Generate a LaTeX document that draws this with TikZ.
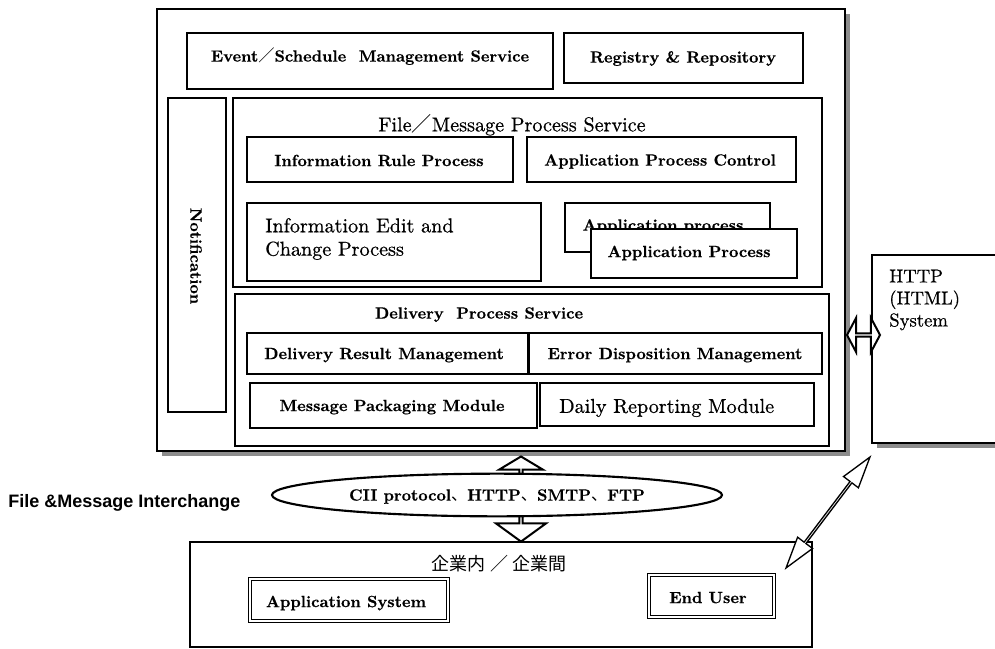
\documentclass[tikz,border=0pt]{standalone}
\usepackage{fontspec}
\newfontfamily\cjk{Noto Sans CJK JP}
\newfontfamily\gothic{Liberation Sans}
\newfontfamily\regfont{lmroman10-regular.otf}[FakeBold=0.6]
\newfontfamily\bfont{lmroman10-bold.otf}[FakeBold=0.5]
\usetikzlibrary{fit,shapes.geometric,shapes.arrows,shadows,calc}
\definecolor{shadowgray}{gray}{0.55}
\newcommand\myBold{\bfont\fontsize{12.2pt}{14.5pt}\selectfont}
\newcommand\myReg{\regfont\fontsize{15.1pt}{17.5pt}\selectfont}
\newcommand\myHttp{\regfont\fontsize{14pt}{16.5pt}\selectfont}
\begin{document}
\begin{tikzpicture}[x=0.75pt,y=-0.75pt,
  box/.style={draw, line width=1.5pt, inner sep=0pt},
  thinbox/.style={draw, line width=0.8pt, inner sep=0pt},
  shadowed/.style={drop shadow={shadow xshift=3.5pt, shadow yshift=-3.5pt, fill=shadowgray, opacity=1}},
  dblbox/.style={draw, double, line width=0.8pt, double distance=1.5pt, inner sep=0pt},
  btxt/.style={inner sep=0pt, font=\myBold, text height=8.4pt, text depth=0pt},
  rtxt/.style={inner sep=0pt, font=\myReg, text height=10.3pt, text depth=0pt},
  blockarrow/.style={single arrow, draw, line width=1.5pt, fill=white, inner sep=0pt},
  blockdbl/.style={double arrow, draw, line width=1.5pt, fill=white, inner sep=0pt},
]
\useasboundingbox (0,0) rectangle (995,649);

% main container
\node[box, fill=white, shadowed, fit={(157,9) (845,451)}] (main) {};
\node[box, fit={(187,33) (553,89)}] (event) {};
\node[btxt] (eventtxt) at (370,56) {Event{\cjk ／}Schedule\ \ Management Service};
\node[box, fit={(564,33) (803,83)}] (registry) {};
\node[btxt] (registrytxt) at (683,57) {Registry \& Repository};

% notification
\node[box, fit={(168,98) (226,412)}] (notif) {};
\node[btxt, rotate=-90] (notiftxt) at (196,256) {Notification};

% file / message process service
\node[box, fit={(233,98) (822,287)}] (fmps) {};
\node[rtxt] (fmtitle) at (512,124.5) {File{\cjk ／}Message Process Service};
\node[box, fit={(247,137) (513,182)}] (irp) {};
\node[btxt] (irptxt) at (379,160.5) {Information Rule Process};
\node[box, fit={(527,137) (796,182)}] (apc) {};
\node[btxt] (apctxt) at (660,160) {Application Process Control};
\node[box, fit={(247,203) (541,281)}] (iecp) {};
\node[inner sep=0pt, font=\myReg, align=left, anchor=west] (iecptxt) at (265,239) {Information Edit and\\Change Process};
\node[box, fit={(565,203) (770,252)}] (apback) {};
\node[btxt] (apbacktxt) at (663,225) {Application process};
\node[box, fill=white, fit={(591,229) (797,278)}] (apfront) {};
\node[btxt] (apfronttxt) at (689,251.5) {Application Process};

% delivery process service
\node[box, fit={(235,294) (829,446)}] (dps) {};
\node[btxt] (dpstitle) at (479,313) {Delivery\ \ Process Service};
\node[box, fit={(247,333) (528,374)}] (drm) {};
\node[btxt] (drmtxt) at (384,353.5) {Delivery Result Management};
\node[box, fit={(529,333) (822,374)}] (edm) {};
\node[btxt] (edmtxt) at (675,353.5) {Error Disposition Management};
\node[box, fit={(250,383) (537,428)}] (mpm) {};
\node[btxt] (mpmtxt) at (392,405.5) {Message Packaging Module};
\node[box, fit={(540,383) (814,426)}] (dailybox) {};
\node[rtxt, anchor=west] (dailytxt) at (559,406) {Daily Reporting Module};

% HTTP system
\node[thinbox, fill=white, shadowed, fit={(872,255) (1000,443)}] (http) {};
\node[inner sep=0pt, font=\myHttp, align=left, anchor=west] (httptxt) at (889,300) {HTTP\\(HTML)\\System};

% horizontal double block arrow main <-> http
\coordinate (hA) at (847,335);
\coordinate (hB) at (880,335);
\node[blockdbl, minimum height=24.75pt, minimum width=25.5pt,
      double arrow head extend=7.5pt, double arrow tip angle=124]
      (harrow) at ($(hA)!0.5!(hB)$) {};

% vertical block arrows around the ellipse
\coordinate (uA) at (521,480);
\coordinate (uB) at (521,457);
\node[blockarrow, rotate=90, minimum height=17.25pt, minimum width=33pt,
      single arrow head extend=9pt, single arrow tip angle=118]
      (uparrow) at ($(uA)!0.5!(uB)$) {};
\coordinate (dA) at (521,506);
\coordinate (dB) at (521,541);
\node[blockarrow, rotate=-90, minimum height=26.25pt, minimum width=37.5pt,
      single arrow head extend=11.25pt, single arrow tip angle=108]
      (downarrow) at ($(dA)!0.5!(dB)$) {};

% ellipse
\node[ellipse, draw, line width=1.6pt, fill=white, minimum width=337.5pt,
      minimum height=32pt, inner sep=0pt, font=\myBold, text height=8.4pt, text depth=0pt]
      (ell) at (497,495) {CII protocol{\cjk 、}HTTP{\cjk 、}SMTP{\cjk 、}FTP};
\node[inner sep=0pt, anchor=west, text height=9.6pt, text depth=0pt,
      font={\gothic\fontsize{13.5pt}{16pt}\selectfont\bfseries}] (fmi) at (8,501) {File \&Message Interchange};

% lower box
\node[box, fit={(190,542) (812,647)}] (lower) {};
\node[inner sep=0pt, font={\cjk\fontsize{13.5pt}{16pt}\selectfont}] (lowertitle) at (499,564) {企業内 ／ 企業間};
\node[dblbox, fit={(250,579) (448,621)}] (appsys) {};
\node[btxt] (appsystxt) at (346,601.5) {Application System};
\node[dblbox, fit={(649,575) (774,617)}] (enduser) {};
\node[btxt] (endusertxt) at (708,597.5) {End User};

% diagonal double arrow end user <-> http
\coordinate (gA) at (786,568);
\coordinate (gB) at (870,457);
\path let \p1=($(gB)-(gA)$) in
  node[double arrow, draw, line width=1pt, fill=white, inner sep=0pt,
       rotate={atan2(\y1,\x1)}, minimum height={veclen(\x1,\y1)},
       minimum width=14pt, double arrow head extend=3.6pt, double arrow tip angle=33]
       (diag) at ($(gA)!0.5!(gB)$) {};
\end{tikzpicture}
\end{document}
